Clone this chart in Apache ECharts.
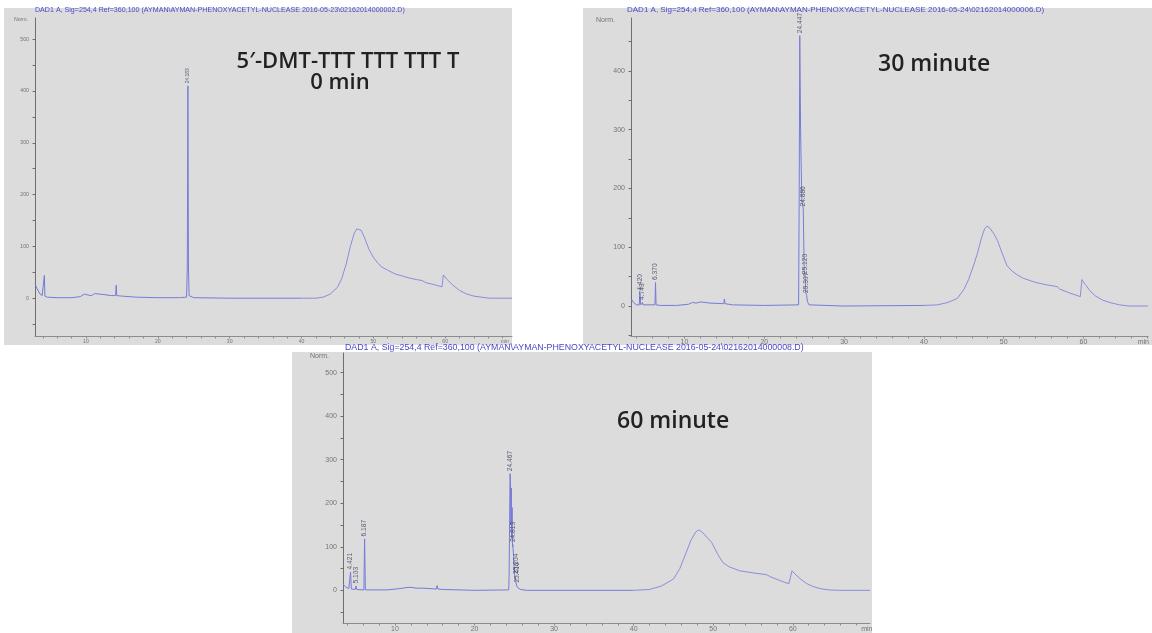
<!DOCTYPE html>
<html>
<head>
<meta charset="utf-8">
<script src="https://cdn.jsdelivr.net/npm/echarts@6/dist/echarts.min.js"></script>
<style>
  html, body { margin: 0; padding: 0; background: #ffffff; }
  #chart { width: 1152px; height: 633px; }
</style>
</head>
<body>
<div id="chart"></div>
<script>
// HPLC traces (DAD1 A, 254 nm) of the DMT-T10 oligo during nuclease digestion.
// Each trace: [retention time (min), signal (Norm.)].
// "early" = sharp region up to ~40 min, "late" = broad gradient hump after it.

// 0 min sample
const early0min = [
  [2.9, 28], [3.2, 18], [3.6, 8], [3.9, 5], [4.12, 4], [4.2, 44], [4.28, 4], [4.6, 2],
  [6, 1], [8, 1], [9.2, 3], [9.8, 8], [10.3, 6], [10.8, 5], [11.2, 9], [11.8, 8],
  [12.5, 7], [13.5, 5], [14.12, 5], [14.2, 25], [14.28, 5], [15, 4], [17, 2], [20, 1],
  [23, 1], [24.0, 2], [24.1, 60], [24.26, 60], [24.35, 5], [25, 1], [30, 0], [40, 0]
];
const late0min = [
  [40, 0], [42, 0], [43, 2], [44, 8], [45, 21], [45.6, 38], [46.2, 65], [46.8, 100],
  [47.3, 124], [47.7, 134], [47.95, 136], [48.3, 131], [48.8, 116], [49.4, 94], [50, 79],
  [50.6, 68], [51.2, 60], [52, 54], [53, 47], [54, 43], [55, 39], [56, 36], [56.8, 34],
  [57.3, 30], [58.5, 26], [59.55, 22], [59.75, 45], [60.2, 37], [61, 26], [62, 15],
  [63, 8], [64, 4], [65, 2], [66.2, 0], [69.3, 0]
];
// integrated peaks [time, height]
const peaks0min = [[24.183, 410]];

// 30 min sample
const early30min = [
  [3.3, 13], [3.6, 6], [4.0, 2], [4.33, 2], [4.52, 2], [4.68, 2], [4.8, 2], [6.3, 2],
  [6.44, 2], [7, 1], [9, 1], [10.5, 3], [11, 6], [11.5, 5], [12, 7], [12.6, 6], [13.2, 5],
  [14.92, 4], [15.0, 12], [15.08, 4], [16, 2], [20, 1], [24.3, 2], [24.38, 200],
  [24.55, 300], [24.7, 180], [25.0, 60], [25.2, 22], [25.4, 8], [25.6, 2], [30, 0], [40, 1]
];
const late30min = [
  [40, 1], [41.7, 2], [43, 6], [44.2, 13], [45, 28], [45.6, 45], [46.2, 68], [46.7, 89],
  [47.2, 115], [47.6, 131], [47.9, 136], [48.3, 132], [48.8, 122], [49.2, 112], [49.8, 90],
  [50.4, 69], [51, 60], [51.7, 53], [52.5, 47], [54, 40], [55.4, 36], [56.7, 33], [57.0, 29],
  [58.3, 22], [59.6, 16], [59.8, 45], [60.2, 37], [60.8, 26], [61.5, 17], [62.4, 10],
  [63.3, 6], [64.5, 2], [65.7, 0], [68.1, 0]
];
const peaks30min = [
  [4.420, 22], [4.743, 6], [6.370, 40], [24.447, 460], [24.886, 165], [25.120, 50], [25.307, 18]
];

// 60 min sample
const early60min = [
  [3.47, 14], [3.8, 8], [4.2, 4], [4.33, 3], [4.52, 3], [5.0, 2], [5.2, 2], [6.09, 1],
  [6.28, 1], [7, 1], [9, 1], [10.6, 4], [11.3, 6], [12, 7], [12.7, 5], [13.5, 5],
  [15.2, 3], [15.3, 11], [15.4, 3], [16, 2], [20, 0], [24.3, 1], [24.35, 40], [24.52, 250],
  [24.57, 150], [24.62, 235], [24.67, 120], [24.72, 190], [24.77, 100], [24.9, 80],
  [24.95, 60], [25.05, 35], [25.3, 10], [25.5, 5], [25.8, 2], [26.5, 0], [30, 0], [40, 0]
];
const late60min = [
  [40, 0], [42, 2], [43.5, 10], [45, 26], [45.8, 50], [46.6, 87], [47.2, 115], [47.8, 134],
  [48.2, 139], [48.7, 132], [49.3, 120], [49.8, 110], [50.5, 85], [51.2, 64], [52, 54],
  [53.3, 45], [55, 40], [56.7, 36], [57.2, 31], [58.3, 23], [59.5, 15], [59.9, 45],
  [60.3, 37], [60.9, 27], [61.7, 16], [62.5, 9], [63.4, 4], [64.5, 1], [65.9, 0], [69.7, 0]
];
const peaks60min = [
  [4.421, 42], [5.103, 10], [6.187, 118], [24.467, 268], [24.813, 105], [25.204, 32], [25.416, 12]
];

// Axis tick labels
const timeTickLabels = [10, 20, 30, 40, 50, 60];
const signalTickLabels30 = [0, 100, 200, 300, 400];
const signalTickLabels = [0, 100, 200, 300, 400, 500];

// Header lines and sample notes
const headers = [
  'DAD1 A, Sig=254,4 Ref=360,100 (AYMAN\\AYMAN-PHENOXYACETYL-NUCLEASE 2016-05-23\\02162014000002.D)',
  'DAD1 A, Sig=254,4 Ref=360,100 (AYMAN\\AYMAN-PHENOXYACETYL-NUCLEASE 2016-05-24\\02162014000006.D)',
  'DAD1 A, Sig=254,4 Ref=360,100 (AYMAN\\AYMAN-PHENOXYACETYL-NUCLEASE 2016-05-24\\02162014000008.D)'
];
const sampleNotes = ['5\u2032-DMT-TTT TTT TTT T', '0 min', '30 minute', '60 minute'];

function withPeaks(points, peaks) {
  return points.concat(peaks).sort((a, b) => a[0] - b[0]);
}

const panels = [
  { early: withPeaks(early0min, peaks0min), late: late0min, peaks: peaks0min, yLabels: signalTickLabels,
    grid: { left: 35, top: 18, width: 477, height: 318 }, xMin: 2.9, xMax: 69.3, yMin: -73, yMax: 541,
    minPos: 68.3, font: 5.2, bg: [4, 8, 508, 337], header: { x: 35, y: 10, size: 7.1 },
    norm: { x: 28, y: 20 } },
  { early: withPeaks(early30min, peaks30min), late: late30min, peaks: peaks30min, yLabels: signalTickLabels30,
    grid: { left: 631, top: 18, width: 521, height: 318 }, xMin: 3.3, xMax: 68.1, yMin: -51, yMax: 490,
    minPos: 67.5, font: 7, bg: [583, 8, 569, 337], header: { x: 627, y: 10, size: 8 },
    norm: { x: 615, y: 20 } },
  { early: withPeaks(early60min, peaks60min), late: late60min, peaks: peaks60min, yLabels: signalTickLabels,
    grid: { left: 343, top: 353, width: 527, height: 274 }, xMin: 3.47, xMax: 69.7, yMin: -75, yMax: 545,
    minPos: 69.3, font: 7, bg: [292, 352, 580, 281], header: { x: 345, y: 348, size: 8.8 },
    norm: { x: 329, y: 356 } }
];

function stepsBetween(lo, hi, step) {
  const out = [];
  for (let v = Math.ceil(lo / step) * step; v <= hi + 1e-9; v += step) out.push(+v.toFixed(6));
  return out;
}

const traceColor = '#777bd8';
const humpColor = '#8a8ddc';
const axisColor = '#6e6e6e';
const labelColor = '#747474';

const grids = [], xAxes = [], yAxes = [], series = [], elements = [];

panels.forEach((p, i) => {
  grids.push(Object.assign({ containLabel: false, show: false }, p.grid));

  xAxes.push({
    type: 'value', gridIndex: i, min: p.xMin, max: p.xMax,
    axisLine: { show: true, onZero: false, lineStyle: { color: '#8c8c8c', width: 1 } },
    axisTick: { show: true, customValues: stepsBetween(p.xMin, p.xMax, 2), length: 2.5,
                lineStyle: { color: '#8c8c8c' } },
    axisLabel: {
      customValues: timeTickLabels.concat([p.minPos]),
      formatter: v => (Math.abs(v - p.minPos) < 1e-6 ? 'min' : String(v)),
      fontSize: p.font, color: labelColor, margin: 3, fontFamily: 'Liberation Sans'
    },
    splitLine: { show: false }
  });

  yAxes.push({
    type: 'value', gridIndex: i, min: p.yMin, max: p.yMax,
    axisLine: { show: true, onZero: false, lineStyle: { color: axisColor, width: 1 } },
    axisTick: { show: true, customValues: stepsBetween(p.yMin, p.yMax, 50), length: 2.5,
                lineStyle: { color: axisColor } },
    axisLabel: { customValues: p.yLabels, fontSize: p.font, color: labelColor, margin: 6,
                 fontFamily: 'Liberation Sans' },
    splitLine: { show: false }
  });

  // sharp part of the trace
  series.push({
    type: 'line', xAxisIndex: i, yAxisIndex: i, data: p.early,
    showSymbol: false, symbol: 'none', silent: true, animation: false,
    lineStyle: { width: 1, color: traceColor }, z: 3
  });
  // broad hump
  series.push({
    type: 'line', xAxisIndex: i, yAxisIndex: i, data: p.late,
    showSymbol: false, symbol: 'none', silent: true, animation: false,
    lineStyle: { width: 1, color: humpColor }, z: 3
  });

  // retention-time labels on integrated peaks
  series.push({
    type: 'scatter', xAxisIndex: i, yAxisIndex: i, data: p.peaks,
    symbolSize: 1, itemStyle: { color: 'transparent' }, silent: true, animation: false, z: 4,
    label: {
      show: true, position: 'top', distance: 2, rotate: 90, align: 'left', verticalAlign: 'middle',
      formatter: q => q.value[0].toFixed(3), fontSize: p.font * 0.95, color: '#3b3b5c',
      fontFamily: 'Liberation Sans'
    }
  });

  elements.push({
    type: 'rect', z: -100, silent: true,
    shape: { x: p.bg[0], y: p.bg[1], width: p.bg[2], height: p.bg[3] },
    style: { fill: '#dcdcdc' }
  });
  elements.push({
    type: 'text', z: 100, silent: true, x: p.header.x, y: p.header.y,
    style: { text: headers[i], fill: '#4848cc', fontSize: p.header.size,
             fontFamily: 'Liberation Sans', verticalAlign: 'middle', align: 'left' }
  });
  elements.push({
    type: 'text', z: 100, silent: true, x: p.norm.x, y: p.norm.y,
    style: { text: 'Norm.', fill: labelColor, fontSize: p.font, fontFamily: 'Liberation Sans',
             align: 'right', verticalAlign: 'middle' }
  });
});

const noteStyle = { fill: '#222222', fontSize: 22, fontFamily: 'Open Sans', fontWeight: 600,
                    verticalAlign: 'middle' };
elements.push({ type: 'text', z: 100, silent: true, x: 348, y: 62,
  style: Object.assign({}, noteStyle, { text: sampleNotes[0], align: 'center' }) });
elements.push({ type: 'text', z: 100, silent: true, x: 340, y: 83,
  style: Object.assign({}, noteStyle, { text: sampleNotes[1], align: 'center' }) });
elements.push({ type: 'text', z: 100, silent: true, x: 878, y: 64,
  style: Object.assign({}, noteStyle, { text: sampleNotes[2], align: 'left', fontSize: 23 }) });
elements.push({ type: 'text', z: 100, silent: true, x: 617, y: 421,
  style: Object.assign({}, noteStyle, { text: sampleNotes[3], align: 'left', fontSize: 23 }) });

const chart = echarts.init(document.getElementById('chart'), null, { renderer: 'canvas' });
chart.setOption({
  backgroundColor: '#ffffff',
  animation: false,
  grid: grids,
  xAxis: xAxes,
  yAxis: yAxes,
  series: series,
  graphic: { elements: elements }
});
</script>
</body>
</html>
